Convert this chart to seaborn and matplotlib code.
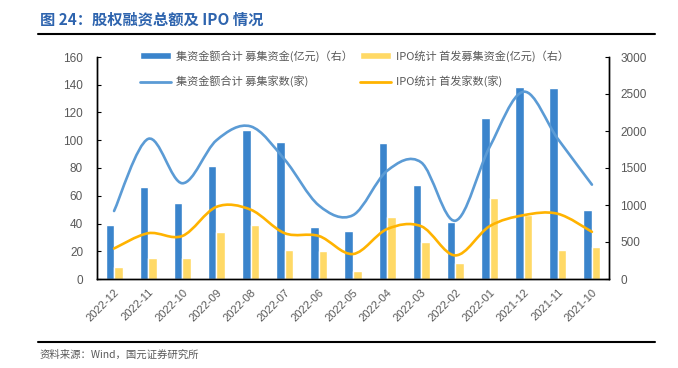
import numpy as np
import pandas as pd
import matplotlib
matplotlib.use('Agg')
import matplotlib.pyplot as plt
import seaborn as sns
from matplotlib.path import Path
from matplotlib.patches import PathPatch, Patch
from matplotlib.lines import Line2D

sns.set_style('white')
plt.rcParams['font.family'] = ['Noto Sans CJK SC', 'DejaVu Sans']
plt.rcParams['axes.unicode_minus'] = False

months = ['2022-12', '2022-11', '2022-10', '2022-09', '2022-08', '2022-07', '2022-06', '2022-05',
          '2022-04', '2022-03', '2022-02', '2022-01', '2021-12', '2021-11', '2021-10']
# 募集资金(亿元) -> right axis
total_amount = [730, 1239, 1022, 1531, 2013, 1851, 703, 644, 1842, 1266, 766, 2175, 2598, 2585, 932]
ipo_amount = [158, 288, 284, 635, 730, 387, 378, 108, 842, 500, 212, 1094, 865, 392, 432]
# 家数(家) -> left axis
total_count = [49, 101, 69, 100, 110, 86, 53, 46, 78, 84, 42, 95, 135, 101, 68]
ipo_count = [22, 33, 31, 52, 50, 33, 31, 18, 36, 38, 17, 38, 46, 47, 34]

lbl_total_amt = '集资金额合计 募集资金(亿元)（右）'
lbl_ipo_amt = 'IPO统计 首发募集资金(亿元)（右）'
lbl_total_cnt = '集资金额合计 募集家数(家)'
lbl_ipo_cnt = 'IPO统计 首发家数(家)'

colors = {'bar_blue': '#3A84CC', 'bar_yellow': '#FFD966',
          'line_blue': '#5B9BD5', 'line_gold': '#FFB300'}
grey = '#595959'
num_font = ['Liberation Sans', 'DejaVu Sans']

df = pd.DataFrame({
    'month': months * 2,
    'value': total_amount + ipo_amount,
    'series': [lbl_total_amt] * len(months) + [lbl_ipo_amt] * len(months),
})


def smooth_path(xs, ys):
    # Bezier path through the points (Excel-like smoothed line)
    pts = np.column_stack([xs, ys]).astype(float)
    n = len(pts)
    verts = [pts[0]]
    codes = [Path.MOVETO]
    for i in range(n - 1):
        p0 = pts[i - 1] if i > 0 else pts[i]
        p1 = pts[i]
        p2 = pts[i + 1]
        p3 = pts[i + 2] if i + 2 < n else pts[i + 1]
        c1 = p1 + (p2 - p0) / 6
        c2 = p2 - (p3 - p1) / 6
        verts += [c1, c2, p2]
        codes += [Path.CURVE4] * 3
    return Path(verts, codes)


fig = plt.figure(figsize=(6.78, 3.68), dpi=100)
ax = fig.add_axes([97 / 678, 1 - 279 / 368, 512 / 678, 222 / 368])
ax2 = ax.twinx()

sns.barplot(data=df, x='month', y='value', hue='series', order=months,
            palette=[colors['bar_blue'], colors['bar_yellow']], width=0.5,
            gap=0, ax=ax2, legend=False, saturation=1)
ax2.set_xlabel('')
ax2.set_ylabel('')

x = np.arange(len(months))
for vals, c in [(total_count, colors['line_blue']), (ipo_count, colors['line_gold'])]:
    ax.add_patch(PathPatch(smooth_path(x, vals), facecolor='none', edgecolor=c,
                           lw=1.9, capstyle='round', joinstyle='round'))

ax.set_zorder(ax2.get_zorder() + 1)
ax.patch.set_visible(False)

ax.set_xlim(-0.5, len(months) - 0.5)
ax.set_ylim(0, 160)
ax2.set_ylim(0, 3000)
ax.set_yticks(range(0, 161, 20))
ax2.set_yticks(range(0, 3001, 500))

ax.set_xticks(x)
ax.set_xticklabels(months, rotation=45, ha='right', va='top', rotation_mode='anchor',
                   color=grey, fontsize=8, family=num_font)
ax.set_xticks(np.arange(len(months) + 1) - 0.5, minor=True)
ax.tick_params(axis='x', which='major', length=0, pad=6)
ax.tick_params(axis='x', which='minor', length=3, direction='in', width=0.8, color='black')
ax.tick_params(axis='y', length=3, direction='in', width=0.8, colors='black',
               labelcolor=grey, labelsize=8.5, pad=10)
ax2.tick_params(axis='y', length=3, direction='in', width=0.8, colors='black',
                labelcolor=grey, labelsize=8.5, pad=8)
for t in ax.get_yticklabels() + ax2.get_yticklabels():
    t.set_family(num_font)

for a in (ax, ax2):
    a.spines['top'].set_visible(False)
    for s in ('left', 'right', 'bottom'):
        a.spines[s].set_color('black')
        a.spines[s].set_linewidth(1.0)

# column-wise order for ncol=2
handles = [Patch(facecolor=colors['bar_blue'], label=lbl_total_amt),
           Line2D([], [], color=colors['line_blue'], lw=2, label=lbl_total_cnt),
           Patch(facecolor=colors['bar_yellow'], label=lbl_ipo_amt),
           Line2D([], [], color=colors['line_gold'], lw=2, label=lbl_ipo_cnt)]
leg = fig.legend(handles=handles, ncol=2, frameon=False, loc='upper left',
                 bbox_to_anchor=(140 / 678, 1 - 50 / 368), fontsize=8,
                 handlelength=2.8, handleheight=0.55, handletextpad=0.4,
                 columnspacing=0.7, labelspacing=1.25, borderpad=0, borderaxespad=0)
for t in leg.get_texts():
    t.set_color(grey)

fig.text(40 / 678, 1 - 20 / 368, '图 24：股权融资总额及 IPO 情况', color='#2E64AE',
         fontsize=11, fontweight='bold', va='center', ha='left')
fig.add_artist(Line2D([38 / 678, 655 / 678], [1 - 33.5 / 368] * 2, color='black', lw=1.5))
fig.add_artist(Line2D([38 / 678, 655 / 678], [1 - 342 / 368] * 2, color='black', lw=1.5))
fig.text(40 / 678, 1 - 355 / 368, '资料来源：Wind，国元证券研究所', color=grey,
         fontsize=7.5, va='center', ha='left')

fig.savefig('out.png', dpi=100)
